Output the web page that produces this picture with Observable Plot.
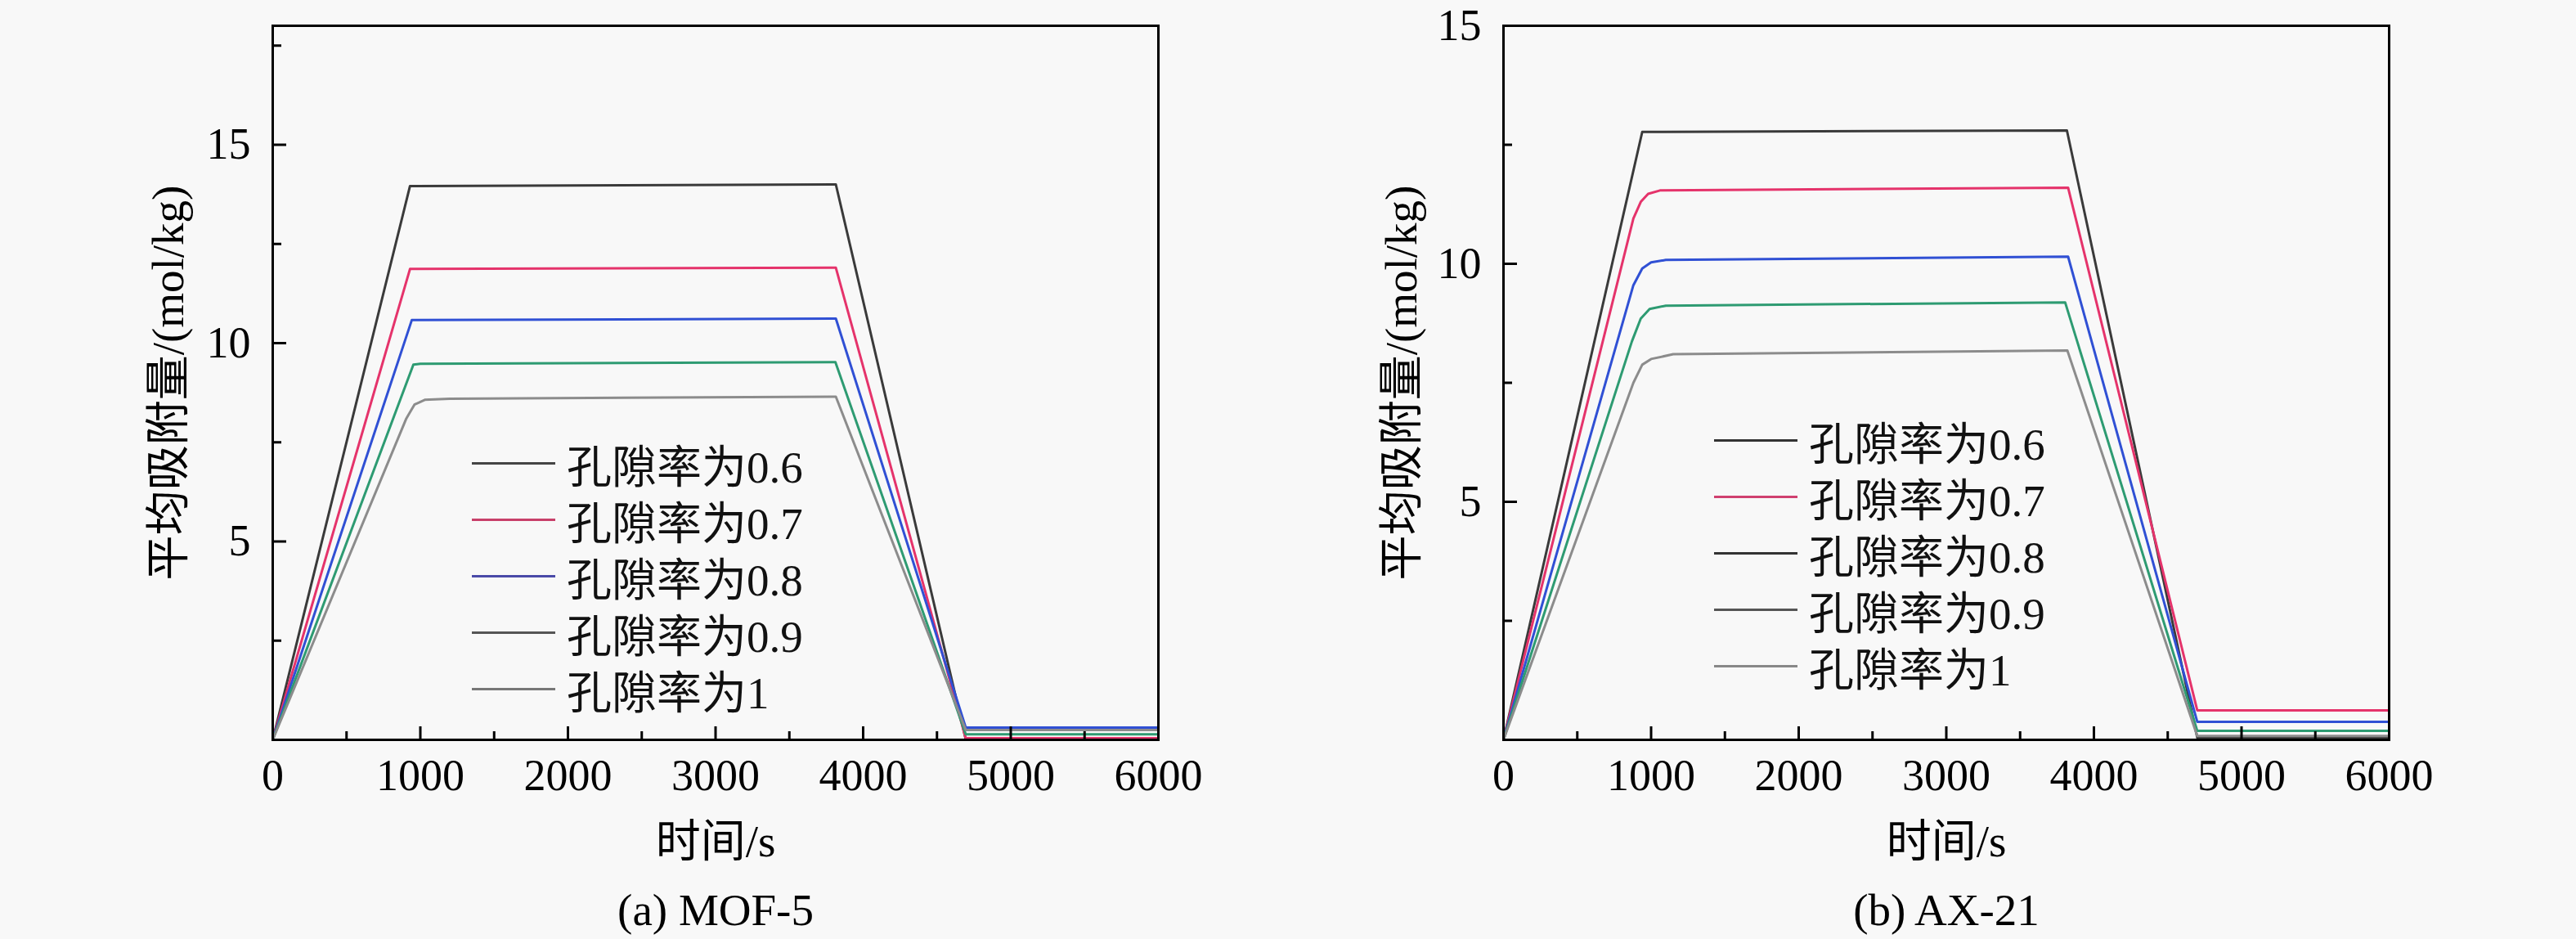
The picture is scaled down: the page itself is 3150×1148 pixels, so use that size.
<!DOCTYPE html>
<html><head><meta charset="utf-8">
<script src="https://cdn.jsdelivr.net/npm/d3@7"></script>
<script src="https://cdn.jsdelivr.net/npm/@observablehq/plot@0.6"></script>
<style>
html,body{margin:0;padding:0;background:#f8f8f8;}
#page{position:relative;width:3150px;height:1148px;overflow:hidden;background:#f8f8f8;}
.panel{position:absolute;top:0;width:1575px;height:1148px;}
.legend{position:absolute;font-family:"Liberation Serif","Noto Sans CJK SC",serif;font-size:55px;color:#111;}
.row{height:69px;display:flex;align-items:center;white-space:nowrap;}
.sw{width:102px;height:0;border-top:3px solid;margin-right:14px;}
</style></head>
<body><div id="page"></div>
<script>
// ---------- data ----------
const labels = ["孔隙率为0.6", "孔隙率为0.7", "孔隙率为0.8", "孔隙率为0.9", "孔隙率为1"];
const colors = ["#3a3a3a", "#e5336b", "#3050d4", "#2e9b72", "#8c8c8c"];

const xMajor = [0, 1000, 2000, 3000, 4000, 5000, 6000];
const xMinor = [500, 1500, 2500, 3500, 4500, 5500];

// (a) MOF-5
const mof06T = [0, 930, 3815, 4695, 6000];
const mof06V = [0, 13.96, 14.0, 0.01, 0.01];
const mof07T = [0, 930, 3815, 4695, 6000];
const mof07V = [0, 11.87, 11.9, 0.04, 0.04];
const mof08T = [0, 942, 3815, 4695, 6000];
const mof08V = [0, 10.58, 10.62, 0.31, 0.31];
const mof09T = [0, 953, 1000, 3812, 4695, 6000];
const mof09V = [0, 9.46, 9.48, 9.52, 0.14, 0.14];
const mof10T = [0, 905, 960, 1030, 1200, 3815, 4695, 6000];
const mof10V = [0, 8.1, 8.45, 8.57, 8.6, 8.65, 0.25, 0.25];
const mofYLabels = [5, 10, 15];
const mofYMajor = [0, 5, 10, 15];
const mofYMinor = [2.5, 7.5, 12.5, 17.5];
const mofLegend = ["#444444", "#c8406a", "#4a4aa8", "#555555", "#777777"];

// (b) AX-21
const ax06T = [0, 940, 3817, 4700, 6000];
const ax06V = [0, 12.77, 12.8, 0.05, 0.05];
const ax07T = [0, 880, 930, 980, 1060, 3825, 4700, 6000];
const ax07V = [0, 10.95, 11.3, 11.47, 11.54, 11.6, 0.62, 0.62];
const ax08T = [0, 880, 940, 1000, 1100, 3825, 4700, 6000];
const ax08V = [0, 9.55, 9.9, 10.03, 10.08, 10.15, 0.38, 0.38];
const ax09T = [0, 870, 930, 990, 1100, 3805, 4700, 6000];
const ax09V = [0, 8.37, 8.85, 9.05, 9.12, 9.19, 0.19, 0.19];
const ax10T = [0, 880, 940, 1000, 1150, 3820, 4700, 6000];
const ax10V = [0, 7.5, 7.88, 8.0, 8.1, 8.18, 0.08, 0.08];
const axYLabels = [5, 10, 15];
const axYMajor = [0, 5, 10, 15];
const axYMinor = [2.5, 7.5, 12.5];
const axLegend = ["#333333", "#d04070", "#333333", "#555555", "#888888"];

const yTitle = "平均吸附量/(mol/kg)";
const xTitle = "时间/s";
const captions = ["(a) MOF-5", "(b) AX-21"];

// ---------- build ----------
function rowsOf(ts, vs) {
  const out = [];
  ts.forEach((T, i) => T.forEach((t, j) => out.push({t, v: vs[i][j], s: labels[i]})));
  return out;
}
const mofRows = rowsOf([mof06T, mof07T, mof08T, mof09T, mof10T], [mof06V, mof07V, mof08V, mof09V, mof10V]);
const axRows = rowsOf([ax06T, ax07T, ax08T, ax09T, ax10T], [ax06V, ax07V, ax08V, ax09V, ax10V]);

const FONT = '"Liberation Serif", "Noto Sans CJK SC", serif';

function panel({rows, yDomain, yLabels, yMajor, yMinor, ml, mr, titleDx, caption}) {
  const W = 1575, H = 1148, mt = 31, mb = 244;
  const fw = W - ml - mr, fh = H - mt - mb;
  return Plot.plot({
    width: W, height: H,
    marginLeft: ml, marginRight: mr, marginTop: mt, marginBottom: mb,
    style: {background: "#f8f8f8", fontFamily: FONT, fontSize: "54px", color: "#000", overflow: "visible"},
    x: {domain: [0, 6000]},
    y: {domain: yDomain},
    color: {domain: labels, range: colors},
    marks: [
      Plot.line(rows, {x: "t", y: "v", z: "s", stroke: "s", strokeWidth: 3, strokeLinejoin: "round"}),
      Plot.frame({stroke: "#000", strokeWidth: 3}),
      Plot.tickX(xMajor, {x: d => d, insetTop: fh - 16, stroke: "#000", strokeWidth: 3}),
      Plot.tickX(xMinor, {x: d => d, insetTop: fh - 10, stroke: "#000", strokeWidth: 3}),
      Plot.tickY(yMajor, {y: d => d, insetRight: fw - 17, stroke: "#000", strokeWidth: 3}),
      Plot.tickY(yMinor, {y: d => d, insetRight: fw - 11, stroke: "#000", strokeWidth: 3}),
      Plot.axisX(xMajor, {anchor: "bottom", tickSize: 0, tickPadding: 23, label: null, tickFormat: d => String(d)}),
      Plot.axisY(yLabels, {anchor: "left", tickSize: 0, tickPadding: 27, label: null, tickFormat: d => String(d)}),
      Plot.text([yTitle], {text: d => d, frameAnchor: "left", dx: titleDx, rotate: -90, fontSize: 55,
        textAnchor: "middle", lineAnchor: "middle"}),
      Plot.text([xTitle], {text: d => d, frameAnchor: "bottom", dy: 125, fontSize: 55,
        textAnchor: "middle", lineAnchor: "middle"}),
      Plot.text([caption], {text: d => d, frameAnchor: "bottom", dy: 209, fontSize: 55,
        textAnchor: "middle", lineAnchor: "middle"})
    ]
  });
}

function legend(swatches, left, top) {
  const div = document.createElement("div");
  div.className = "legend";
  div.style.left = left + "px";
  div.style.top = top + "px";
  labels.forEach((lab, i) => {
    const r = document.createElement("div");
    r.className = "row";
    const sw = document.createElement("div");
    sw.className = "sw";
    sw.style.borderTopColor = swatches[i];
    const tx = document.createElement("span");
    tx.textContent = lab;
    r.appendChild(sw); r.appendChild(tx);
    div.appendChild(r);
  });
  return div;
}

const page = document.getElementById("page");

const pA = document.createElement("div");
pA.className = "panel"; pA.style.left = "0px";
pA.appendChild(panel({rows: mofRows, yDomain: [0, 18], yLabels: mofYLabels, yMajor: mofYMajor, yMinor: mofYMinor,
  ml: 333, mr: 159, titleDx: -127, caption: captions[0]}));
pA.appendChild(legend(mofLegend, 577, 531.5));
page.appendChild(pA);

const pB = document.createElement("div");
pB.className = "panel"; pB.style.left = "1575px";
pB.appendChild(panel({rows: axRows, yDomain: [0, 15], yLabels: axYLabels, yMajor: axYMajor, yMinor: axYMinor,
  ml: 263, mr: 229, titleDx: -124, caption: captions[1]}));
pB.appendChild(legend(axLegend, 2096 - 1575, 503.5));
page.appendChild(pB);
</script>
</body></html>
